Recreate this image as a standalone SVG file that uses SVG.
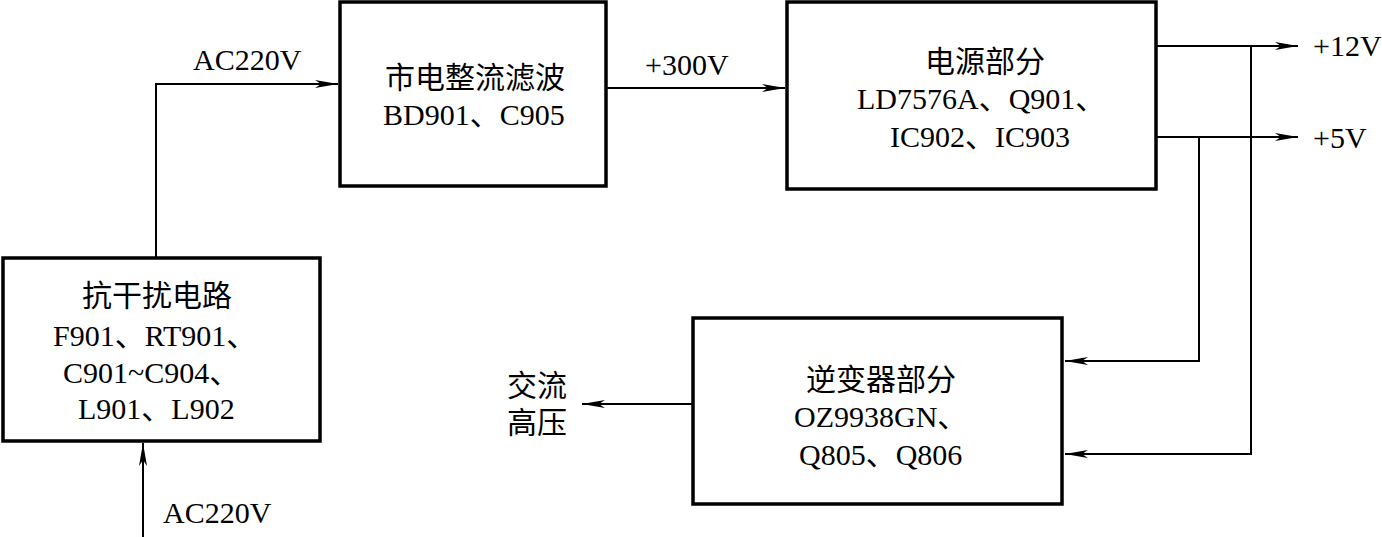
<svg xmlns="http://www.w3.org/2000/svg" width="1382" height="537" viewBox="0 0 1382 537">
<style>
.box{fill:#fff;stroke:#000;stroke-width:3.5}
.t{font-family:"Liberation Serif","Noto Sans CJK SC",serif;font-size:30px;fill:#000}
.c{font-family:"Liberation Serif","Noto Sans CJK SC",serif;font-size:30px;fill:#000}
.w{fill:none;stroke:#000;stroke-width:2}
</style>
<defs>
<marker id="arr" markerUnits="userSpaceOnUse" markerWidth="26" markerHeight="12" viewBox="-24 -6 26 12" refX="0" refY="0" orient="auto">
<path d="M0,0 L-23,-4 L-17,0 L-23,4 Z" fill="#000"/>
</marker>
</defs>
<rect width="1382" height="537" fill="#fff"/>
<g id="connectors">
<path class="w" d="M156,257 V84 H338" marker-end="url(#arr)"/>
<path class="w" d="M607,88 H785" marker-end="url(#arr)"/>
<path class="w" d="M1157,46 H1298" marker-end="url(#arr)"/>
<path class="w" d="M1157,137 H1298" marker-end="url(#arr)"/>
<path class="w" d="M1199,137 V361 H1065" marker-end="url(#arr)"/>
<path class="w" d="M1251,46 V454 H1065" marker-end="url(#arr)"/>
<path class="w" d="M692,404 H582" marker-end="url(#arr)"/>
<path class="w" d="M143,537 V443" marker-end="url(#arr)"/>
<text class="t" x="193" y="70">AC220V</text>
<text class="t" x="645" y="75">+300V</text>
<text class="t" x="1313" y="56">+12V</text>
<text class="t" x="1313" y="148">+5V</text>
<text class="t" x="163" y="523">AC220V</text>
<text class="c" x="507" y="396">交流</text>
<text class="c" x="507" y="433">高压</text>
</g>
<g id="node-emi">
<rect class="box" x="3" y="258" width="317" height="183"/>
<text class="c" x="82" y="306">抗干扰电路</text>
<text class="t" x="53" y="346">F901、RT901、</text>
<text class="t" x="63" y="383">C901~C904、</text>
<text class="t" x="78" y="419">L901、L902</text>
</g>
<g id="node-rectifier">
<rect class="box" x="340" y="2" width="266" height="184"/>
<text class="c" x="385" y="88">市电整流滤波</text>
<text class="t" x="383" y="125">BD901、C905</text>
</g>
<g id="node-power">
<rect class="box" x="787" y="2" width="369" height="187"/>
<text class="c" x="925" y="72">电源部分</text>
<text class="t" x="857" y="109">LD7576A、Q901、</text>
<text class="t" x="890" y="147">IC902、IC903</text>
</g>
<g id="node-inverter">
<rect class="box" x="693" y="318" width="369" height="186"/>
<text class="c" x="806" y="390">逆变器部分</text>
<text class="t" x="794" y="427">OZ9938GN、</text>
<text class="t" x="799" y="465">Q805、Q806</text>
</g>
</svg>
